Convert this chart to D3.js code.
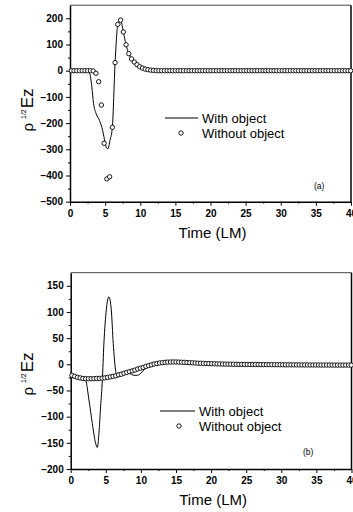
<!DOCTYPE html>
<html>
<head>
<meta charset="utf-8">
<script src="https://cdn.jsdelivr.net/npm/d3@7"></script>
<style>
  body { margin: 0; background: #fff; }
  svg { display: block; font-family: Arial, "Liberation Sans", sans-serif; }
</style>
</head>
<body>
<div id="chart"></div>
<script>
// sample times of the "without object" circles (LM)
const timeSteps = [
  0.18, 0.57, 0.96, 1.35, 1.74, 2.13, 2.52, 2.91, 3.30, 3.69,
  4.08, 4.47, 4.86, 5.25, 5.64, 6.03, 6.42, 6.81, 7.20, 7.59,
  7.98, 8.37, 8.76, 9.15, 9.54, 9.93, 10.32, 10.71, 11.10, 11.49,
  11.88, 12.27, 12.66, 13.05, 13.44, 13.83, 14.22, 14.61, 15.00, 15.39,
  15.78, 16.17, 16.56, 16.95, 17.34, 17.73, 18.12, 18.51, 18.90, 19.29,
  19.68, 20.07, 20.46, 20.85, 21.24, 21.63, 22.02, 22.41, 22.80, 23.19,
  23.58, 23.97, 24.36, 24.75, 25.14, 25.53, 25.92, 26.31, 26.70, 27.09,
  27.48, 27.87, 28.26, 28.65, 29.04, 29.43, 29.82, 30.21, 30.60, 30.99,
  31.38, 31.77, 32.16, 32.55, 32.94, 33.33, 33.72, 34.11, 34.50, 34.89,
  35.28, 35.67, 36.06, 36.45, 36.84, 37.23, 37.62, 38.01, 38.40, 38.79,
  39.18, 39.57, 39.96
];

// panel (a) - without object (circles)
const withoutA = [
  0, 0, 0, 0, 0, 0, 0, 0, -1, -10,
  -42, -131, -277, -413, -405, -216, 31, 177, 193, 148,
  99, 65, 45, 33, 23, 15, 10, 6, 4, 2,
  1, 0, 0, 0, 0, 0, 0, 0, 0, 0,
  0, 0, 0, 0, 0, 0, 0, 0, 0, 0,
  0, 0, 0, 0, 0, 0, 0, 0, 0, 0,
  0, 0, 0, 0, 0, 0, 0, 0, 0, 0,
  0, 0, 0, 0, 0, 0, 0, 0, 0, 0,
  0, 0, 0, 0, 0, 0, 0, 0, 0, 0,
  0, 0, 0, 0, 0, 0, 0, 0, 0, 0,
  0, 0, 0
];

// panel (a) - with object (line)
const withTimeA = [0, 2.5, 2.8, 3.1, 3.35, 3.7, 4.2, 4.65, 5.0, 5.2,
  5.4, 5.7, 6.03, 6.42, 6.81, 7.05, 7.2, 7.59, 7.98, 8.37,
  8.76, 9.15, 9.54, 9.93, 10.5, 11.1, 12, 13, 40];
const withA = [0, 0, -10, -60, -125, -163, -190, -228, -275, -295,
  -298, -265, -216, 31, 177, 190, 193, 148, 99, 65,
  45, 33, 23, 15, 8, 4, 1, 0, 0];

// panel (b) - without object (circles)
const withoutB = [
  -21, -23, -25, -26, -27, -27.5, -27.5, -27.5, -27.5, -27,
  -27, -26.5, -26, -25, -24, -23, -22, -20, -19, -17,
  -15.5, -14, -12.5, -11, -9, -7.5, -6, -4, -2.5, -1,
  0.5, 1.5, 2.5, 3.2, 3.8, 4.2, 4.4, 4.5, 4.4, 4.2,
  4.0, 3.7, 3.4, 3.1, 2.8, 2.5, 2.2, 2.0, 1.8, 1.6,
  1.4, 1.2, 1.0, 0.8, 0.7, 0.5, 0.4, 0.3, 0.2, 0.1,
  0, -0.1, -0.2, -0.2, -0.3, -0.3, -0.4, -0.4, -0.5, -0.5,
  -0.6, -0.6, -0.7, -0.7, -0.8, -0.8, -0.9, -0.9, -1.0, -1.0,
  -1.0, -1.1, -1.1, -1.1, -1.2, -1.2, -1.2, -1.3, -1.3, -1.3,
  -1.3, -1.4, -1.4, -1.4, -1.4, -1.5, -1.5, -1.5, -1.5, -1.5,
  -1.5, -1.5, -1.5
];

// panel (b) - with object (line)
const withTimeB = [0, 0.5, 1.0, 1.5, 2.0, 2.13, 2.6, 3.08, 3.55, 3.79,
  4.02, 4.26, 4.5, 4.73, 5.07, 5.44, 5.78, 6.06, 6.39, 6.63,
  7.0, 7.5, 8.0, 8.5, 9.0, 9.5, 10.0, 10.5, 11.0, 11.5,
  12.0, 12.5, 13.5, 14.5, 16, 20, 25, 30, 35, 40];
const withB = [-25, -26, -27, -28, -28, -30, -68, -113, -151, -159,
  -132, -81, -32, 40, 104, 129, 104, 40, -11, -24,
  -23, -19, -16, -18, -21, -21, -17, -10, -5, -1,
  1, 2, 4, 4.5, 3.8, 1.3, 0, -0.8, -1.2, -1.5];

const xTicks = [0, 5, 10, 15, 20, 25, 30, 35, 40];
const xMinor = [2.5, 7.5, 12.5, 17.5, 22.5, 27.5, 32.5, 37.5];
const yTicksA = [-500, -400, -300, -200, -100, 0, 100, 200];
const yMinorA = [-450, -350, -250, -150, -50, 50, 150];
const yTicksB = [-200, -150, -100, -50, 0, 50, 100, 150];
const yMinorB = [-175, -125, -75, -25, 25, 75, 125];
const legendLabels = ['With object', 'Without object'];

const svg = d3.select('#chart').append('svg')
  .attr('width', 353)
  .attr('height', 512);

function styleAxis(ax) {
  ax.select('.domain').attr('stroke', '#000').attr('stroke-width', 1.5);
  ax.selectAll('.tick line').attr('stroke', '#000').attr('stroke-width', 1);
  ax.selectAll('.tick text')
    .attr('fill', '#000')
    .style('font-size', '10px')
    .style('font-weight', 'bold');
}

function drawPanel(p) {
  const x = d3.scaleLinear().domain([0, 40]).range([p.left, p.right]);
  const y = d3.scaleLinear().domain(p.yDomain).range([p.bottom, p.top]);
  const g = svg.append('g');

  // frame: top and right
  g.append('line')
    .attr('x1', p.left).attr('x2', p.right)
    .attr('y1', p.top).attr('y2', p.top)
    .attr('stroke', '#444').attr('stroke-width', 1);
  g.append('line')
    .attr('x1', p.right).attr('x2', p.right)
    .attr('y1', p.top).attr('y2', p.bottom)
    .attr('stroke', '#000').attr('stroke-width', 1.5);

  // x axis, major + minor ticks
  const xa = g.append('g')
    .attr('transform', 'translate(0,' + p.bottom + ')')
    .call(d3.axisBottom(x).tickValues(xTicks).tickSize(4).tickSizeOuter(0).tickPadding(4).tickFormat(d3.format('d')));
  styleAxis(xa);
  const xm = g.append('g')
    .attr('transform', 'translate(0,' + p.bottom + ')')
    .call(d3.axisBottom(x).tickValues(xMinor).tickSize(2).tickSizeOuter(0).tickFormat(''));
  xm.select('.domain').remove();

  // y axis
  const ya = g.append('g')
    .attr('transform', 'translate(' + p.left + ',0)')
    .call(d3.axisLeft(y).tickValues(p.yTicks).tickSize(4).tickSizeOuter(0).tickPadding(3).tickFormat(d3.format('d')));
  styleAxis(ya);
  const ym = g.append('g')
    .attr('transform', 'translate(' + p.left + ',0)')
    .call(d3.axisLeft(y).tickValues(p.yMinor).tickSize(2).tickSizeOuter(0).tickFormat(''));
  ym.select('.domain').remove();

  // with object line
  const line = d3.line()
    .x(d => x(d[0]))
    .y(d => y(d[1]))
    .curve(d3.curveMonotoneX);
  g.append('path')
    .datum(d3.zip(p.withT, p.withV))
    .attr('fill', 'none')
    .attr('stroke', '#000')
    .attr('stroke-width', 1)
    .attr('d', line);

  // without object circles
  g.selectAll('circle.pt')
    .data(d3.zip(timeSteps, p.without))
    .enter()
    .append('circle')
    .attr('class', 'pt')
    .attr('cx', d => x(d[0]))
    .attr('cy', d => y(d[1]))
    .attr('r', 2.2)
    .attr('fill', '#fff')
    .attr('stroke', '#000')
    .attr('stroke-width', 0.9);

  // legend
  const lg = p.legend;
  g.append('line')
    .attr('x1', lg.x1).attr('x2', lg.x2)
    .attr('y1', lg.y).attr('y2', lg.y)
    .attr('stroke', '#000').attr('stroke-width', 1);
  g.append('text')
    .attr('x', lg.tx).attr('y', lg.y + 4.5)
    .style('font-size', '13px')
    .text(legendLabels[0]);
  g.append('circle')
    .attr('cx', lg.cx).attr('cy', lg.y + 15)
    .attr('r', 2.2).attr('fill', '#fff')
    .attr('stroke', '#000').attr('stroke-width', 0.9);
  g.append('text')
    .attr('x', lg.tx).attr('y', lg.y + 19.5)
    .style('font-size', '13px')
    .text(legendLabels[1]);

  // panel tag
  g.append('text')
    .attr('x', p.tag.x).attr('y', p.tag.y)
    .style('font-size', '8.5px')
    .text(p.tag.text);

  // axis titles
  g.append('text')
    .attr('x', (p.left + p.right) / 2 + 2)
    .attr('y', p.bottom + 36)
    .attr('text-anchor', 'middle')
    .style('font-size', '15px')
    .text('Time (LM)');

  const yl = g.append('text')
    .attr('transform', 'translate(33,' + p.yLabelY + ') rotate(-90)')
    .attr('text-anchor', 'middle');
  yl.append('tspan').style('font-size', '15px').text('ρ');
  yl.append('tspan').attr('dx', 4).attr('dy', -7).style('font-size', '7px').text('1/2');
  yl.append('tspan').attr('dx', 1).attr('dy', 7).style('font-size', '17px').text('Ez');
}

drawPanel({
  left: 70, right: 351, top: 5.2, bottom: 201.7,
  yDomain: [-500, 250], yTicks: yTicksA, yMinor: yMinorA,
  withT: withTimeA, withV: withA, without: withoutA,
  legend: { x1: 165, x2: 198, y: 118, tx: 202, cx: 181 },
  tag: { x: 314, y: 189, text: '(a)' },
  yLabelY: 110
});

drawPanel({
  left: 70.7, right: 351.5, top: 272.7, bottom: 469,
  yDomain: [-200, 175], yTicks: yTicksB, yMinor: yMinorB,
  withT: withTimeB, withV: withB, without: withoutB,
  legend: { x1: 160, x2: 195, y: 411, tx: 199, cx: 179 },
  tag: { x: 303, y: 455, text: '(b)' },
  yLabelY: 374
});
</script>
</body>
</html>
